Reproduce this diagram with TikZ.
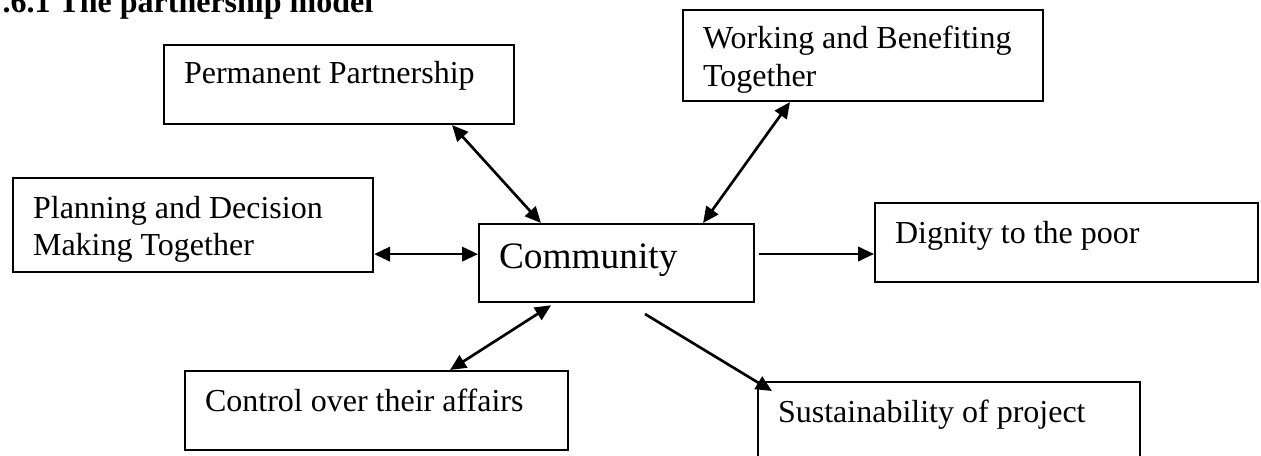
\documentclass[tikz,border=0pt]{standalone}
\usepackage{fontspec}
\setmainfont{Liberation Serif}
\usetikzlibrary{arrows.meta}

\begin{document}
\begin{tikzpicture}[
  x=0.375pt, y=-0.375pt,
  box/.style={draw, line width=0.8pt, anchor=north west, inner xsep=7.5pt, inner ysep=0pt,
    align=flush left, font=\fontsize{12}{13.9}\selectfont},
  link/.style={line width=1pt, -{Triangle[length=6pt,width=5.4pt]}},
  both/.style={line width=1pt, {Triangle[length=6pt,width=5.4pt]}-{Triangle[length=6pt,width=5.4pt]}}
]
\useasboundingbox (0,0) rectangle (1261,456);
\node[anchor=base west, inner sep=0pt, font=\bfseries\fontsize{12}{14}\selectfont] (title) at (2,13) {.6.1 The partnership model};

\node[box, text width=116.25pt, text height=14.6pt, text depth=15pt] (perm) at (163,44) {Permanent Partnership};
\node[box, text width=120pt, text height=14.6pt, text depth=19.5pt] (work) at (682,9) {Working and Benefiting\\Together};
\node[box, text width=120pt, text height=15pt, text depth=20.25pt] (plan) at (12,177) {Planning and Decision\\Making Together};
\node[box, text width=88pt, text height=16.5pt, text depth=12.75pt, font=\fontsize{14}{16}\selectfont] (comm) at (478,223) {Community};
\node[box, text width=128.6pt, text height=15pt, text depth=14.6pt] (dign) at (874,202) {Dignity to the poor};
\node[box, text width=128.6pt, text height=15pt, text depth=14.6pt] (ctrl) at (184,370) {Control over their affairs};
\node[box, text width=128.25pt, text height=15pt, text depth=22pt] (sust) at (757,381) {Sustainability of project};

\coordinate (gap) at (645,314);

\draw[both] ([xshift=108.4pt]perm.south west) -- ([xshift=23.6pt]comm.north west);
\draw[both] ([xshift=40.5pt]work.south west) -- ([xshift=84.4pt]comm.north west);
\draw[both] ([yshift=-10.9pt]plan.east) -- ([yshift=-10.9pt]plan.east -| comm.west);
\draw[link] ([xshift=1.5pt,yshift=3.4pt]comm.east) -- ([yshift=3.4pt]comm.east -| dign.west);
\draw[both] ([xshift=99.75pt]ctrl.north west) -- ([xshift=27.4pt,yshift=-0.8pt]comm.south west);
\draw[link] (gap) -- ([xshift=5.6pt,yshift=-3.75pt]sust.north west);
\end{tikzpicture}
\end{document}
